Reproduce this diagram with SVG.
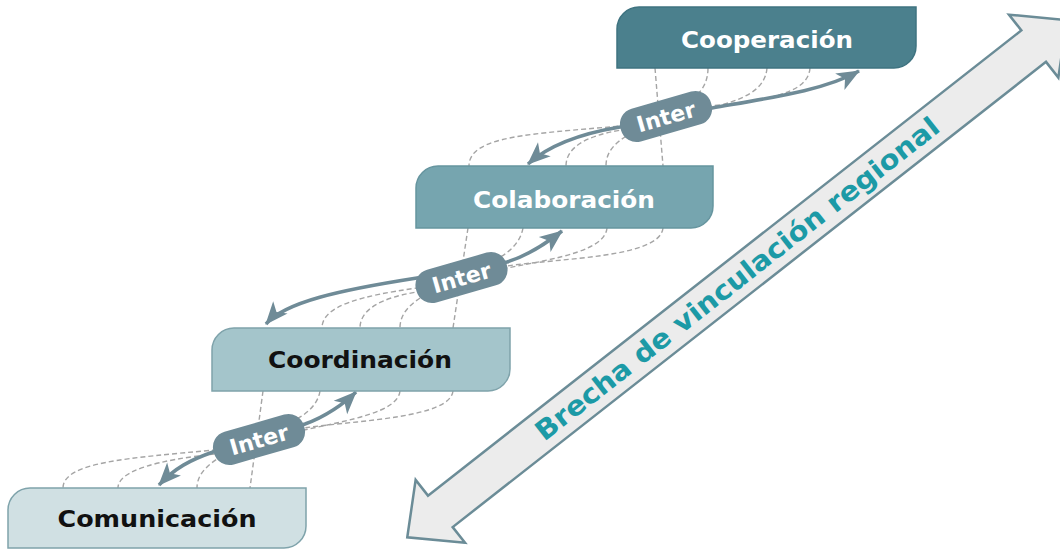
<svg xmlns="http://www.w3.org/2000/svg" width="1060" height="553" viewBox="0 0 1060 553">
  <style>
    .dash { fill: none; stroke: #a5a5a5; stroke-width: 1.4; stroke-dasharray: 5 3; }
    .thick { fill: none; stroke: #6f8b97; stroke-width: 3.5; marker-start: url(#head); marker-end: url(#head); }
    .pill { fill: #6f8b97; }
    .pilltxt { font-family: "DejaVu Sans", "Liberation Sans", sans-serif; font-weight: bold; font-size: 22px; fill: #ffffff; text-anchor: middle; }
    .lbl { font-family: "DejaVu Sans", "Liberation Sans", sans-serif; font-weight: bold; font-size: 23px; text-anchor: middle; }
    .big { fill: #ececec; stroke: #6b8c97; stroke-width: 2.5; stroke-linejoin: miter; }
    .bigtxt { font-family: "DejaVu Sans", "Liberation Sans", sans-serif; font-weight: bold; font-size: 27px; fill: #1c9aa6; text-anchor: middle; }
  </style>
  <defs>
    <marker id="head" markerUnits="userSpaceOnUse" viewBox="-24 -11 26 22" markerWidth="26" markerHeight="22" refX="0" refY="0" orient="auto-start-reverse">
      <path d="M1,0 L-22,-9.5 L-16,0 L-22,9.5 Z" fill="#6f8b97"/>
    </marker>
  </defs>

  <g id="brecha">
    <g transform="translate(737,278.75) rotate(-38.1)">
      <polygon class="big" points="-419,0 -377,-40 -377,-20 377,-20 377,-40 419,0 377,40 377,20 -377,20 -377,40"/>
      <text class="bigtxt" x="0" y="9.5" textLength="505" lengthAdjust="spacingAndGlyphs">Brecha de vinculación regional</text>
    </g>
  </g>

  <g id="connectors">
    <!-- top pair: Cooperación -> Colaboración -->
    <path class="dash" d="M810,68 C808,96 760,100 711,106 L621,126 C530,134 469,136 469,166"/>
    <path class="dash" d="M767,68 C765,92 740,100 711,108 L621,130 C585,136 566,148 566,166"/>
    <path class="dash" d="M708,68 C708,84 700,94 690,100 L630,134 C612,144 606,154 606,166"/>
    <path class="dash" d="M655,68 L663,166"/>
    <!-- middle pair: Colaboración -> Coordinación -->
    <path class="dash" d="M663,228 C660,258 560,258 507,266 L417,288 C360,296 322,306 322,328"/>
    <path class="dash" d="M607,228 C605,250 560,258 507,268 L417,292 C380,298 360,310 360,328"/>
    <path class="dash" d="M523,228 C520,245 505,255 495,260 L425,295 C408,305 400,315 400,328"/>
    <path class="dash" d="M468,228 L453,328"/>
    <!-- bottom pair: Coordinación -> Comunicación -->
    <path class="dash" d="M453,391 C450,418 360,420 304,428 L214,450 C130,458 63,462 63,488"/>
    <path class="dash" d="M400,391 C398,412 350,420 304,430 L214,454 C160,460 118,470 118,488"/>
    <path class="dash" d="M320,391 C318,405 305,415 295,420 L222,456 C205,466 197,476 197,488"/>
    <path class="dash" d="M263,391 L250,488"/>

    <!-- thick double arrows -->
    <path class="thick" d="M528,164 C548,146 578,134 620,127 L712,108 C775,97 825,90 859,71"/>
    <path class="thick" d="M266,324 C285,302 340,290 417,278 L507,262 C530,255 548,242 562,231"/>
    <path class="thick" d="M159,485 C175,468 190,460 213,452 L305,424 C325,417 345,403 356,392"/>
  </g>

  <g id="inter-top" transform="translate(666,116.5) rotate(-16)">
    <rect class="pill" x="-47" y="-17" width="94" height="34" rx="16"/>
    <text class="pilltxt" x="0" y="8">Inter</text>
  </g>
  <g id="inter-middle" transform="translate(461.5,277.5) rotate(-16)">
    <rect class="pill" x="-47" y="-17" width="94" height="34" rx="16"/>
    <text class="pilltxt" x="0" y="8">Inter</text>
  </g>
  <g id="inter-bottom" transform="translate(259,439.5) rotate(-16)">
    <rect class="pill" x="-47" y="-17" width="94" height="34" rx="16"/>
    <text class="pilltxt" x="0" y="8">Inter</text>
  </g>

  <g id="cooperacion">
    <path d="M639,7 H916 V46 A22,22 0 0 1 894,68 H617 V29 A22,22 0 0 1 639,7 Z" fill="#4b808d" stroke="#3f7380" stroke-width="1.5"/>
    <text class="lbl" x="767" y="48" fill="#ffffff" textLength="172" lengthAdjust="spacingAndGlyphs">Cooperación</text>
  </g>
  <g id="colaboracion">
    <path d="M438,166 H713 V206 A22,22 0 0 1 691,228 H416 V188 A22,22 0 0 1 438,166 Z" fill="#76a5af" stroke="#66959f" stroke-width="1.5"/>
    <text class="lbl" x="564" y="208" fill="#ffffff" textLength="182" lengthAdjust="spacingAndGlyphs">Colaboración</text>
  </g>
  <g id="coordinacion">
    <path d="M234,328 H510 V369 A22,22 0 0 1 488,391 H212 V350 A22,22 0 0 1 234,328 Z" fill="#a4c5cb" stroke="#7fa3ab" stroke-width="1.5"/>
    <text class="lbl" x="360" y="368" fill="#111111" textLength="184" lengthAdjust="spacingAndGlyphs">Coordinación</text>
  </g>
  <g id="comunicacion">
    <path d="M30,488 H306 V526 A22,22 0 0 1 284,548 H8 V510 A22,22 0 0 1 30,488 Z" fill="#d0e0e3" stroke="#7fa3ab" stroke-width="1.5"/>
    <text class="lbl" x="157" y="527" fill="#111111" textLength="199" lengthAdjust="spacingAndGlyphs">Comunicación</text>
  </g>
</svg>
